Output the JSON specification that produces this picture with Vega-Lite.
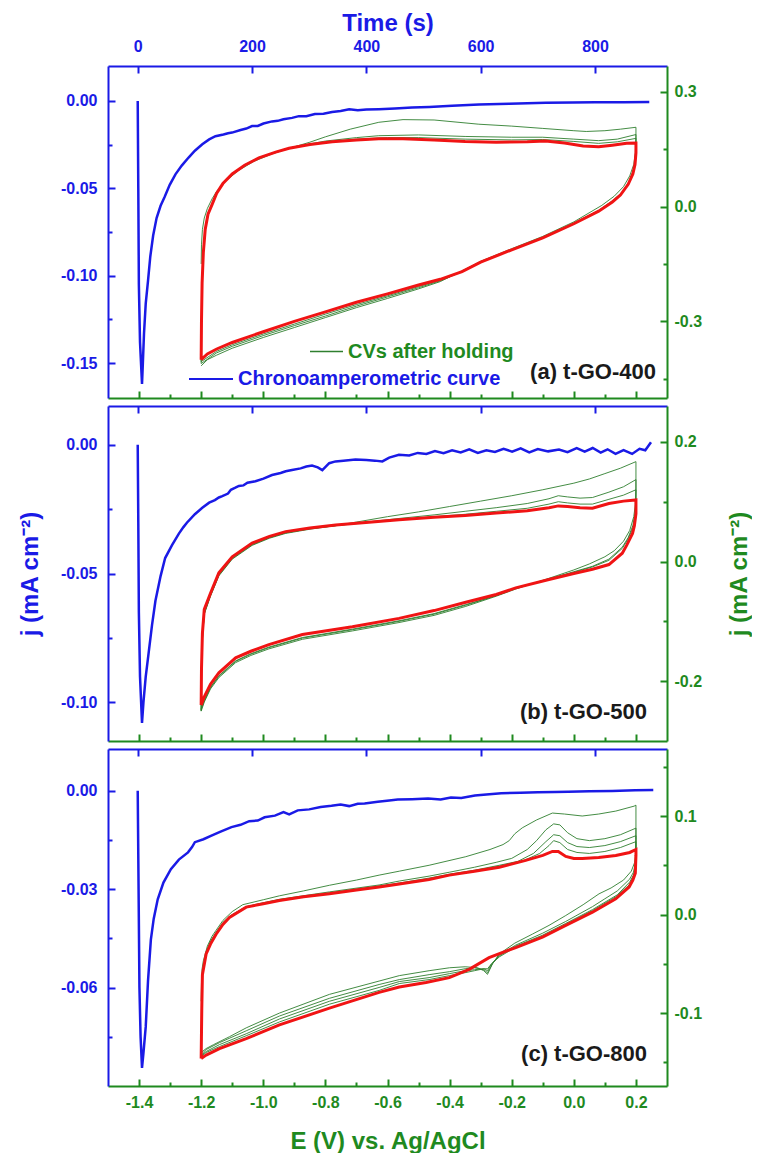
{
"$schema": "https://vega.github.io/schema/vega-lite/v6.json",
"padding": {"left": 18, "top": 11, "right": 0, "bottom": 0},
"config": {
 "view": {"stroke": null},
 "axis": {"grid": false, "domainWidth": 2, "tickWidth": 2, "labelFont": "Liberation Sans", "labelFontWeight": "bold", "labelFontSize": 16, "titleFont": "Liberation Sans", "titleFontWeight": "bold", "titleFontSize": 24, "labelFlush": false, "labelOverlap": false},
 "legend": {"labelLimit": 500, "padding": 0, "labelFont": "Liberation Sans", "labelFontWeight": "bold", "labelFontSize": 20, "symbolType": "stroke", "labelOffset": 4}
},
"datasets": {
"caA": [{"t":0,"j":0},{"t":1,"j":-0.05},{"t":2,"j":-0.105},{"t":4,"j":-0.138},{"t":7.5,"j":-0.162},{"t":9,"j":-0.15},{"t":11,"j":-0.133},{"t":14,"j":-0.116},{"t":18,"j":-0.103},{"t":22,"j":-0.089},{"t":27,"j":-0.077},{"t":33,"j":-0.067},{"t":40,"j":-0.06},{"t":47,"j":-0.055},{"t":56,"j":-0.048},{"t":66,"j":-0.042},{"t":77,"j":-0.037},{"t":89,"j":-0.0324},{"t":100,"j":-0.0285},{"t":113,"j":-0.0248},{"t":125,"j":-0.022},{"t":136,"j":-0.0202},{"t":150,"j":-0.0192},{"t":158,"j":-0.0185},{"t":165,"j":-0.0181},{"t":180,"j":-0.0166},{"t":190,"j":-0.0158},{"t":200,"j":-0.0144},{"t":210,"j":-0.0143},{"t":220,"j":-0.0129},{"t":235,"j":-0.0117},{"t":245,"j":-0.0114},{"t":255,"j":-0.0105},{"t":270,"j":-0.0097},{"t":282,"j":-0.0087},{"t":295,"j":-0.0087},{"t":310,"j":-0.0075},{"t":325,"j":-0.0073},{"t":340,"j":-0.0063},{"t":355,"j":-0.0057},{"t":370,"j":-0.0048},{"t":385,"j":-0.0053},{"t":400,"j":-0.0049},{"t":422,"j":-0.0047},{"t":450,"j":-0.0043},{"t":480,"j":-0.0037},{"t":510,"j":-0.0034},{"t":550,"j":-0.0028},{"t":597,"j":-0.002},{"t":650,"j":-0.0016},{"t":714,"j":-0.0011},{"t":760,"j":-0.0009},{"t":800,"j":-0.0008},{"t":850,"j":-0.0007},{"t":895,"j":-0.0006}],
"caB": [{"t":0,"j":0},{"t":1,"j":-0.03},{"t":2,"j":-0.065},{"t":4,"j":-0.09},{"t":7.5,"j":-0.108},{"t":10,"j":-0.1},{"t":14,"j":-0.09},{"t":19,"j":-0.081},{"t":25,"j":-0.07},{"t":31,"j":-0.0606},{"t":40,"j":-0.051},{"t":48,"j":-0.044},{"t":60,"j":-0.039},{"t":72,"j":-0.0345},{"t":80,"j":-0.032},{"t":86,"j":-0.0303},{"t":100,"j":-0.027},{"t":113,"j":-0.0245},{"t":125,"j":-0.0225},{"t":135,"j":-0.0215},{"t":142,"j":-0.0205},{"t":148,"j":-0.02},{"t":158,"j":-0.019},{"t":163,"j":-0.0175},{"t":170,"j":-0.0168},{"t":177,"j":-0.016},{"t":185,"j":-0.0158},{"t":192,"j":-0.0148},{"t":206,"j":-0.0142},{"t":220,"j":-0.0132},{"t":235,"j":-0.0118},{"t":250,"j":-0.011},{"t":259,"j":-0.0103},{"t":270,"j":-0.0098},{"t":285,"j":-0.0092},{"t":295,"j":-0.0085},{"t":305,"j":-0.0081},{"t":315,"j":-0.0088},{"t":323,"j":-0.0099},{"t":335,"j":-0.0072},{"t":346,"j":-0.0065},{"t":360,"j":-0.0062},{"t":381,"j":-0.0058},{"t":400,"j":-0.006},{"t":415,"j":-0.0062},{"t":428,"j":-0.0065},{"t":440,"j":-0.005},{"t":457,"j":-0.0039},{"t":475,"j":-0.0042},{"t":490,"j":-0.0032},{"t":505,"j":-0.0036},{"t":520,"j":-0.0025},{"t":535,"j":-0.0033},{"t":550,"j":-0.0022},{"t":565,"j":-0.003},{"t":580,"j":-0.0018},{"t":595,"j":-0.0032},{"t":610,"j":-0.0022},{"t":625,"j":-0.0028},{"t":640,"j":-0.0016},{"t":655,"j":-0.0027},{"t":670,"j":-0.0014},{"t":685,"j":-0.003},{"t":700,"j":-0.0017},{"t":718,"j":-0.0026},{"t":737,"j":-0.0019},{"t":752,"j":-0.0029},{"t":768,"j":-0.0013},{"t":782,"j":-0.0027},{"t":796,"j":-0.0013},{"t":810,"j":-0.0031},{"t":822,"j":-0.0018},{"t":836,"j":-0.0036},{"t":850,"j":-0.0021},{"t":865,"j":-0.0036},{"t":878,"j":-0.0016},{"t":888,"j":-0.0022},{"t":898,"j":0.0009}],
"caC": [{"t":0,"j":0},{"t":1.5,"j":-0.03},{"t":3,"j":-0.06},{"t":5,"j":-0.075},{"t":7.5,"j":-0.0845},{"t":10,"j":-0.08},{"t":14,"j":-0.072},{"t":18,"j":-0.058},{"t":23,"j":-0.0454},{"t":28,"j":-0.039},{"t":35,"j":-0.0331},{"t":45,"j":-0.028},{"t":58,"j":-0.0239},{"t":72,"j":-0.021},{"t":88,"j":-0.0188},{"t":95,"j":-0.0172},{"t":100,"j":-0.0157},{"t":115,"j":-0.0148},{"t":129,"j":-0.0137},{"t":145,"j":-0.0125},{"t":164,"j":-0.0111},{"t":180,"j":-0.0104},{"t":195,"j":-0.0093},{"t":210,"j":-0.0091},{"t":222,"j":-0.0081},{"t":240,"j":-0.0076},{"t":255,"j":-0.0065},{"t":265,"j":-0.0072},{"t":280,"j":-0.006},{"t":300,"j":-0.0057},{"t":320,"j":-0.005},{"t":339,"j":-0.0046},{"t":355,"j":-0.0042},{"t":370,"j":-0.0047},{"t":385,"j":-0.004},{"t":397,"j":-0.0039},{"t":420,"j":-0.0034},{"t":440,"j":-0.003},{"t":455,"j":-0.0027},{"t":480,"j":-0.0026},{"t":508,"j":-0.0024},{"t":530,"j":-0.0027},{"t":548,"j":-0.0021},{"t":566,"j":-0.0022},{"t":590,"j":-0.0015},{"t":610,"j":-0.0012},{"t":636,"j":-0.0008},{"t":670,"j":-0.0006},{"t":700,"j":-0.0005},{"t":730,"j":-0.0004},{"t":753,"j":-0.0003},{"t":790,"j":-0.0002},{"t":830,"j":-0.0001},{"t":870,"j":0.0001},{"t":902,"j":0.0002}],
"cvA": [
{"c":1,"E":-1.2,"j":-0.15},{"c":1,"E":-1.199,"j":-0.1},{"c":1,"E":-1.196,"j":-0.06},{"c":1,"E":-1.19,"j":-0.03},{"c":1,"E":-1.18,"j":-0.005},{"c":1,"E":-1.165,"j":0.02},{"c":1,"E":-1.15,"j":0.04},{"c":1,"E":-1.12,"j":0.067},{"c":1,"E":-1.08,"j":0.094},{"c":1,"E":-1.03,"j":0.118},{"c":1,"E":-0.97,"j":0.138},{"c":1,"E":-0.9,"j":0.156},{"c":1,"E":-0.85,"j":0.168},{"c":1,"E":-0.8,"j":0.182},{"c":1,"E":-0.72,"j":0.202},{"c":1,"E":-0.628,"j":0.22},{"c":1,"E":-0.55,"j":0.227},{"c":1,"E":-0.45,"j":0.226},{"c":1,"E":-0.306,"j":0.215},{"c":1,"E":-0.2,"j":0.21},{"c":1,"E":-0.1,"j":0.204},{"c":1,"E":0.0,"j":0.198},{"c":1,"E":0.04,"j":0.196},{"c":1,"E":0.1,"j":0.198},{"c":1,"E":0.15,"j":0.202},{"c":1,"E":0.2,"j":0.207},
{"c":1,"E":0.2,"j":0.175},{"c":1,"E":0.198,"j":0.14},{"c":1,"E":0.193,"j":0.11},{"c":1,"E":0.18,"j":0.08},{"c":1,"E":0.16,"j":0.052},{"c":1,"E":0.13,"j":0.027},{"c":1,"E":0.09,"j":0.003},{"c":1,"E":0.0,"j":-0.04},{"c":1,"E":-0.1,"j":-0.078},{"c":1,"E":-0.2,"j":-0.11},{"c":1,"E":-0.3,"j":-0.143},{"c":1,"E":-0.36,"j":-0.168},{"c":1,"E":-0.43,"j":-0.196},{"c":1,"E":-0.5,"j":-0.215},{"c":1,"E":-0.6,"j":-0.24},{"c":1,"E":-0.7,"j":-0.264},{"c":1,"E":-0.8,"j":-0.29},{"c":1,"E":-0.9,"j":-0.316},{"c":1,"E":-1.0,"j":-0.342},{"c":1,"E":-1.1,"j":-0.37},{"c":1,"E":-1.15,"j":-0.388},{"c":1,"E":-1.18,"j":-0.4},{"c":1,"E":-1.2,"j":-0.416},
{"c":2,"E":-1.2,"j":-0.41},{"c":2,"E":-1.199,"j":-0.3},{"c":2,"E":-1.197,"j":-0.2},{"c":2,"E":-1.193,"j":-0.12},{"c":2,"E":-1.187,"j":-0.06},{"c":2,"E":-1.178,"j":-0.02},{"c":2,"E":-1.165,"j":0.006},{"c":2,"E":-1.15,"j":0.036},{"c":2,"E":-1.13,"j":0.061},{"c":2,"E":-1.1,"j":0.086},{"c":2,"E":-1.06,"j":0.109},{"c":2,"E":-1.014,"j":0.128},{"c":2,"E":-0.96,"j":0.143},{"c":2,"E":-0.9,"j":0.156},{"c":2,"E":-0.8,"j":0.171},{"c":2,"E":-0.7,"j":0.18},{"c":2,"E":-0.628,"j":0.185},{"c":2,"E":-0.5,"j":0.187},{"c":2,"E":-0.35,"j":0.183},{"c":2,"E":-0.2,"j":0.181},{"c":2,"E":-0.1,"j":0.181},{"c":2,"E":0.0,"j":0.176},{"c":2,"E":0.08,"j":0.172},{"c":2,"E":0.14,"j":0.176},{"c":2,"E":0.2,"j":0.188},
{"c":2,"E":0.2,"j":0.16},{"c":2,"E":0.198,"j":0.125},{"c":2,"E":0.192,"j":0.095},{"c":2,"E":0.178,"j":0.065},{"c":2,"E":0.155,"j":0.037},{"c":2,"E":0.124,"j":0.015},{"c":2,"E":0.08,"j":-0.01},{"c":2,"E":0.0,"j":-0.043},{"c":2,"E":-0.1,"j":-0.08},{"c":2,"E":-0.2,"j":-0.112},{"c":2,"E":-0.3,"j":-0.144},{"c":2,"E":-0.36,"j":-0.17},{"c":2,"E":-0.43,"j":-0.194},{"c":2,"E":-0.5,"j":-0.212},{"c":2,"E":-0.6,"j":-0.236},{"c":2,"E":-0.7,"j":-0.26},{"c":2,"E":-0.8,"j":-0.286},{"c":2,"E":-0.9,"j":-0.311},{"c":2,"E":-1.0,"j":-0.337},{"c":2,"E":-1.1,"j":-0.365},{"c":2,"E":-1.15,"j":-0.382},{"c":2,"E":-1.2,"j":-0.41},
{"c":3,"E":-1.2,"j":-0.405},{"c":3,"E":-1.199,"j":-0.3},{"c":3,"E":-1.197,"j":-0.2},{"c":3,"E":-1.193,"j":-0.12},{"c":3,"E":-1.187,"j":-0.06},{"c":3,"E":-1.178,"j":-0.02},{"c":3,"E":-1.165,"j":0.005},{"c":3,"E":-1.15,"j":0.035},{"c":3,"E":-1.13,"j":0.06},{"c":3,"E":-1.1,"j":0.085},{"c":3,"E":-1.06,"j":0.108},{"c":3,"E":-1.014,"j":0.127},{"c":3,"E":-0.96,"j":0.142},{"c":3,"E":-0.9,"j":0.155},{"c":3,"E":-0.8,"j":0.168},{"c":3,"E":-0.7,"j":0.176},{"c":3,"E":-0.6,"j":0.18},{"c":3,"E":-0.5,"j":0.18},{"c":3,"E":-0.35,"j":0.176},{"c":3,"E":-0.2,"j":0.174},{"c":3,"E":-0.1,"j":0.175},{"c":3,"E":0.0,"j":0.17},{"c":3,"E":0.08,"j":0.165},{"c":3,"E":0.14,"j":0.169},{"c":3,"E":0.2,"j":0.178},
{"c":3,"E":0.2,"j":0.15},{"c":3,"E":0.197,"j":0.115},{"c":3,"E":0.19,"j":0.088},{"c":3,"E":0.176,"j":0.06},{"c":3,"E":0.152,"j":0.032},{"c":3,"E":0.124,"j":0.013},{"c":3,"E":0.08,"j":-0.011},{"c":3,"E":0.0,"j":-0.044},{"c":3,"E":-0.1,"j":-0.081},{"c":3,"E":-0.2,"j":-0.113},{"c":3,"E":-0.3,"j":-0.145},{"c":3,"E":-0.36,"j":-0.17},{"c":3,"E":-0.43,"j":-0.192},{"c":3,"E":-0.5,"j":-0.209},{"c":3,"E":-0.6,"j":-0.233},{"c":3,"E":-0.7,"j":-0.256},{"c":3,"E":-0.8,"j":-0.281},{"c":3,"E":-0.9,"j":-0.307},{"c":3,"E":-1.0,"j":-0.333},{"c":3,"E":-1.1,"j":-0.361},{"c":3,"E":-1.15,"j":-0.378},{"c":3,"E":-1.2,"j":-0.405},
{"c":0,"E":-1.2,"j":-0.4},{"c":0,"E":-1.199,"j":-0.3},{"c":0,"E":-1.197,"j":-0.2},{"c":0,"E":-1.193,"j":-0.12},{"c":0,"E":-1.187,"j":-0.06},{"c":0,"E":-1.178,"j":-0.02},{"c":0,"E":-1.165,"j":0.005},{"c":0,"E":-1.15,"j":0.035},{"c":0,"E":-1.13,"j":0.06},{"c":0,"E":-1.1,"j":0.085},{"c":0,"E":-1.06,"j":0.108},{"c":0,"E":-1.014,"j":0.127},{"c":0,"E":-0.96,"j":0.142},{"c":0,"E":-0.917,"j":0.152},{"c":0,"E":-0.85,"j":0.162},{"c":0,"E":-0.778,"j":0.169},{"c":0,"E":-0.7,"j":0.174},{"c":0,"E":-0.628,"j":0.177},{"c":0,"E":-0.55,"j":0.177},{"c":0,"E":-0.45,"j":0.174},{"c":0,"E":-0.35,"j":0.17},{"c":0,"E":-0.25,"j":0.168},{"c":0,"E":-0.15,"j":0.169},{"c":0,"E":-0.091,"j":0.171},{"c":0,"E":-0.03,"j":0.166},{"c":0,"E":0.03,"j":0.158},{"c":0,"E":0.08,"j":0.156},{"c":0,"E":0.124,"j":0.16},{"c":0,"E":0.17,"j":0.165},{"c":0,"E":0.2,"j":0.166},
{"c":0,"E":0.2,"j":0.14},{"c":0,"E":0.197,"j":0.11},{"c":0,"E":0.19,"j":0.085},{"c":0,"E":0.175,"j":0.058},{"c":0,"E":0.15,"j":0.03},{"c":0,"E":0.124,"j":0.012},{"c":0,"E":0.08,"j":-0.012},{"c":0,"E":0.0,"j":-0.045},{"c":0,"E":-0.1,"j":-0.082},{"c":0,"E":-0.2,"j":-0.113},{"c":0,"E":-0.3,"j":-0.145},{"c":0,"E":-0.36,"j":-0.17},{"c":0,"E":-0.43,"j":-0.19},{"c":0,"E":-0.5,"j":-0.205},{"c":0,"E":-0.6,"j":-0.228},{"c":0,"E":-0.7,"j":-0.25},{"c":0,"E":-0.8,"j":-0.275},{"c":0,"E":-0.9,"j":-0.3},{"c":0,"E":-1.0,"j":-0.327},{"c":0,"E":-1.1,"j":-0.355},{"c":0,"E":-1.15,"j":-0.372},{"c":0,"E":-1.18,"j":-0.385},{"c":0,"E":-1.2,"j":-0.4}
],
"cvB": [
{"c":1,"E":-1.2,"j":-0.25},{"c":1,"E":-1.199,"j":-0.19},{"c":1,"E":-1.196,"j":-0.13},{"c":1,"E":-1.19,"j":-0.088},{"c":1,"E":-1.17,"j":-0.058},{"c":1,"E":-1.143,"j":-0.024},{"c":1,"E":-1.1,"j":0.004},{"c":1,"E":-1.036,"j":0.027},{"c":1,"E":-0.98,"j":0.039},{"c":1,"E":-0.928,"j":0.047},{"c":1,"E":-0.85,"j":0.054},{"c":1,"E":-0.767,"j":0.06},{"c":1,"E":-0.7,"j":0.066},{"c":1,"E":-0.6,"j":0.075},{"c":1,"E":-0.5,"j":0.083},{"c":1,"E":-0.4,"j":0.092},{"c":1,"E":-0.3,"j":0.101},{"c":1,"E":-0.2,"j":0.11},{"c":1,"E":-0.1,"j":0.12},{"c":1,"E":0.0,"j":0.131},{"c":1,"E":0.05,"j":0.138},{"c":1,"E":0.1,"j":0.147},{"c":1,"E":0.15,"j":0.156},{"c":1,"E":0.2,"j":0.167},
{"c":1,"E":0.2,"j":0.12},{"c":1,"E":0.198,"j":0.095},{"c":1,"E":0.193,"j":0.075},{"c":1,"E":0.18,"j":0.052},{"c":1,"E":0.16,"j":0.034},{"c":1,"E":0.13,"j":0.018},{"c":1,"E":0.1,"j":0.008},{"c":1,"E":0.05,"j":-0.004},{"c":1,"E":0.0,"j":-0.014},{"c":1,"E":-0.08,"j":-0.028},{"c":1,"E":-0.187,"j":-0.046},{"c":1,"E":-0.25,"j":-0.058},{"c":1,"E":-0.348,"j":-0.075},{"c":1,"E":-0.45,"j":-0.09},{"c":1,"E":-0.563,"j":-0.102},{"c":1,"E":-0.713,"j":-0.116},{"c":1,"E":-0.874,"j":-0.13},{"c":1,"E":-0.982,"j":-0.146},{"c":1,"E":-1.04,"j":-0.157},{"c":1,"E":-1.089,"j":-0.169},{"c":1,"E":-1.143,"j":-0.194},{"c":1,"E":-1.17,"j":-0.213},{"c":1,"E":-1.19,"j":-0.235},{"c":1,"E":-1.2,"j":-0.25},
{"c":2,"E":-1.2,"j":-0.25},{"c":2,"E":-1.199,"j":-0.19},{"c":2,"E":-1.196,"j":-0.13},{"c":2,"E":-1.19,"j":-0.087},{"c":2,"E":-1.17,"j":-0.057},{"c":2,"E":-1.143,"j":-0.023},{"c":2,"E":-1.1,"j":0.005},{"c":2,"E":-1.036,"j":0.028},{"c":2,"E":-0.98,"j":0.04},{"c":2,"E":-0.928,"j":0.048},{"c":2,"E":-0.85,"j":0.055},{"c":2,"E":-0.767,"j":0.06},{"c":2,"E":-0.65,"j":0.067},{"c":2,"E":-0.563,"j":0.072},{"c":2,"E":-0.45,"j":0.078},{"c":2,"E":-0.35,"j":0.084},{"c":2,"E":-0.25,"j":0.09},{"c":2,"E":-0.15,"j":0.097},{"c":2,"E":-0.08,"j":0.105},{"c":2,"E":-0.05,"j":0.11},{"c":2,"E":-0.02,"j":0.108},{"c":2,"E":0.02,"j":0.106},{"c":2,"E":0.06,"j":0.107},{"c":2,"E":0.113,"j":0.116},{"c":2,"E":0.16,"j":0.125},{"c":2,"E":0.2,"j":0.137},
{"c":2,"E":0.2,"j":0.1},{"c":2,"E":0.197,"j":0.08},{"c":2,"E":0.19,"j":0.06},{"c":2,"E":0.175,"j":0.04},{"c":2,"E":0.156,"j":0.024},{"c":2,"E":0.113,"j":0.004},{"c":2,"E":0.06,"j":-0.008},{"c":2,"E":0.0,"j":-0.017},{"c":2,"E":-0.08,"j":-0.029},{"c":2,"E":-0.187,"j":-0.045},{"c":2,"E":-0.25,"j":-0.057},{"c":2,"E":-0.348,"j":-0.073},{"c":2,"E":-0.45,"j":-0.088},{"c":2,"E":-0.563,"j":-0.1},{"c":2,"E":-0.713,"j":-0.114},{"c":2,"E":-0.874,"j":-0.128},{"c":2,"E":-0.982,"j":-0.144},{"c":2,"E":-1.04,"j":-0.155},{"c":2,"E":-1.089,"j":-0.167},{"c":2,"E":-1.143,"j":-0.192},{"c":2,"E":-1.17,"j":-0.211},{"c":2,"E":-1.19,"j":-0.233},{"c":2,"E":-1.2,"j":-0.248},
{"c":3,"E":-1.2,"j":-0.248},{"c":3,"E":-1.199,"j":-0.188},{"c":3,"E":-1.196,"j":-0.128},{"c":3,"E":-1.19,"j":-0.086},{"c":3,"E":-1.17,"j":-0.056},{"c":3,"E":-1.143,"j":-0.022},{"c":3,"E":-1.1,"j":0.006},{"c":3,"E":-1.036,"j":0.029},{"c":3,"E":-0.98,"j":0.04},{"c":3,"E":-0.928,"j":0.048},{"c":3,"E":-0.85,"j":0.055},{"c":3,"E":-0.767,"j":0.06},{"c":3,"E":-0.65,"j":0.066},{"c":3,"E":-0.563,"j":0.07},{"c":3,"E":-0.45,"j":0.075},{"c":3,"E":-0.35,"j":0.079},{"c":3,"E":-0.25,"j":0.084},{"c":3,"E":-0.15,"j":0.089},{"c":3,"E":-0.08,"j":0.096},{"c":3,"E":-0.05,"j":0.1},{"c":3,"E":-0.02,"j":0.098},{"c":3,"E":0.02,"j":0.096},{"c":3,"E":0.06,"j":0.096},{"c":3,"E":0.113,"j":0.104},{"c":3,"E":0.16,"j":0.111},{"c":3,"E":0.2,"j":0.12},
{"c":3,"E":0.2,"j":0.095},{"c":3,"E":0.197,"j":0.075},{"c":3,"E":0.19,"j":0.056},{"c":3,"E":0.173,"j":0.036},{"c":3,"E":0.156,"j":0.022},{"c":3,"E":0.113,"j":0.002},{"c":3,"E":0.06,"j":-0.009},{"c":3,"E":0.0,"j":-0.018},{"c":3,"E":-0.08,"j":-0.029},{"c":3,"E":-0.187,"j":-0.045},{"c":3,"E":-0.25,"j":-0.057},{"c":3,"E":-0.348,"j":-0.072},{"c":3,"E":-0.45,"j":-0.087},{"c":3,"E":-0.563,"j":-0.099},{"c":3,"E":-0.713,"j":-0.113},{"c":3,"E":-0.874,"j":-0.127},{"c":3,"E":-0.982,"j":-0.143},{"c":3,"E":-1.04,"j":-0.154},{"c":3,"E":-1.089,"j":-0.166},{"c":3,"E":-1.143,"j":-0.191},{"c":3,"E":-1.17,"j":-0.21},{"c":3,"E":-1.19,"j":-0.232},{"c":3,"E":-1.2,"j":-0.246},
{"c":0,"E":-1.2,"j":-0.24},{"c":0,"E":-1.199,"j":-0.18},{"c":0,"E":-1.196,"j":-0.12},{"c":0,"E":-1.19,"j":-0.08},{"c":0,"E":-1.17,"j":-0.053},{"c":0,"E":-1.143,"j":-0.019},{"c":0,"E":-1.1,"j":0.008},{"c":0,"E":-1.036,"j":0.031},{"c":0,"E":-0.98,"j":0.042},{"c":0,"E":-0.928,"j":0.05},{"c":0,"E":-0.85,"j":0.056},{"c":0,"E":-0.767,"j":0.061},{"c":0,"E":-0.65,"j":0.066},{"c":0,"E":-0.563,"j":0.07},{"c":0,"E":-0.45,"j":0.074},{"c":0,"E":-0.35,"j":0.077},{"c":0,"E":-0.25,"j":0.081},{"c":0,"E":-0.15,"j":0.085},{"c":0,"E":-0.08,"j":0.09},{"c":0,"E":-0.05,"j":0.093},{"c":0,"E":-0.02,"j":0.092},{"c":0,"E":0.02,"j":0.09},{"c":0,"E":0.06,"j":0.089},{"c":0,"E":0.113,"j":0.097},{"c":0,"E":0.16,"j":0.101},{"c":0,"E":0.2,"j":0.103},
{"c":0,"E":0.2,"j":0.08},{"c":0,"E":0.195,"j":0.06},{"c":0,"E":0.189,"j":0.047},{"c":0,"E":0.17,"j":0.027},{"c":0,"E":0.156,"j":0.014},{"c":0,"E":0.113,"j":-0.005},{"c":0,"E":0.06,"j":-0.013},{"c":0,"E":0.0,"j":-0.02},{"c":0,"E":-0.08,"j":-0.03},{"c":0,"E":-0.187,"j":-0.044},{"c":0,"E":-0.25,"j":-0.055},{"c":0,"E":-0.348,"j":-0.068},{"c":0,"E":-0.45,"j":-0.082},{"c":0,"E":-0.563,"j":-0.095},{"c":0,"E":-0.713,"j":-0.109},{"c":0,"E":-0.874,"j":-0.122},{"c":0,"E":-0.982,"j":-0.139},{"c":0,"E":-1.04,"j":-0.15},{"c":0,"E":-1.089,"j":-0.161},{"c":0,"E":-1.143,"j":-0.186},{"c":0,"E":-1.17,"j":-0.205},{"c":0,"E":-1.19,"j":-0.226},{"c":0,"E":-1.2,"j":-0.24}
],
"cvC": [
{"c":1,"E":-1.2,"j":-0.088},{"c":1,"E":-1.199,"j":-0.07},{"c":1,"E":-1.197,"j":-0.055},{"c":1,"E":-1.193,"j":-0.047},{"c":1,"E":-1.18,"j":-0.032},{"c":1,"E":-1.165,"j":-0.022},{"c":1,"E":-1.152,"j":-0.016},{"c":1,"E":-1.13,"j":-0.006},{"c":1,"E":-1.1,"j":0.003},{"c":1,"E":-1.066,"j":0.01},{"c":1,"E":-1.0,"j":0.015},{"c":1,"E":-0.948,"j":0.019},{"c":1,"E":-0.87,"j":0.024},{"c":1,"E":-0.787,"j":0.0297},{"c":1,"E":-0.7,"j":0.035},{"c":1,"E":-0.627,"j":0.04},{"c":1,"E":-0.562,"j":0.044},{"c":1,"E":-0.466,"j":0.05},{"c":1,"E":-0.348,"j":0.0587},{"c":1,"E":-0.27,"j":0.066},{"c":1,"E":-0.228,"j":0.071},{"c":1,"E":-0.208,"j":0.075},{"c":1,"E":-0.19,"j":0.082},{"c":1,"E":-0.166,"j":0.088},{"c":1,"E":-0.12,"j":0.096},{"c":1,"E":-0.069,"j":0.103},{"c":1,"E":-0.03,"j":0.102},{"c":1,"E":0.027,"j":0.1},{"c":1,"E":0.08,"j":0.102},{"c":1,"E":0.135,"j":0.105},{"c":1,"E":0.194,"j":0.11},{"c":1,"E":0.2,"j":0.111},
{"c":1,"E":0.2,"j":0.076},{"c":1,"E":0.199,"j":0.062},{"c":1,"E":0.196,"j":0.053},{"c":1,"E":0.185,"j":0.044},{"c":1,"E":0.16,"j":0.035},{"c":1,"E":0.12,"j":0.027},{"c":1,"E":0.081,"j":0.021},{"c":1,"E":0.03,"j":0.01},{"c":1,"E":-0.026,"j":-0.001},{"c":1,"E":-0.08,"j":-0.011},{"c":1,"E":-0.133,"j":-0.0198},{"c":1,"E":-0.19,"j":-0.029},{"c":1,"E":-0.24,"j":-0.04},{"c":1,"E":-0.262,"j":-0.05},{"c":1,"E":-0.278,"j":-0.0607},{"c":1,"E":-0.29,"j":-0.057},{"c":1,"E":-0.31,"j":-0.054},{"c":1,"E":-0.35,"j":-0.053},{"c":1,"E":-0.4,"j":-0.054},{"c":1,"E":-0.466,"j":-0.057},{"c":1,"E":-0.562,"j":-0.062},{"c":1,"E":-0.627,"j":-0.0675},{"c":1,"E":-0.787,"j":-0.081},{"c":1,"E":-0.948,"j":-0.1},{"c":1,"E":-1.055,"j":-0.115},{"c":1,"E":-1.109,"j":-0.124},{"c":1,"E":-1.16,"j":-0.132},{"c":1,"E":-1.184,"j":-0.136},{"c":1,"E":-1.2,"j":-0.14},
{"c":2,"E":-1.2,"j":-0.14},{"c":2,"E":-1.199,"j":-0.11},{"c":2,"E":-1.197,"j":-0.08},{"c":2,"E":-1.195,"j":-0.058},{"c":2,"E":-1.184,"j":-0.038},{"c":2,"E":-1.17,"j":-0.027},{"c":2,"E":-1.152,"j":-0.018},{"c":2,"E":-1.13,"j":-0.008},{"c":2,"E":-1.1,"j":0.0},{"c":2,"E":-1.055,"j":0.008},{"c":2,"E":-1.0,"j":0.012},{"c":2,"E":-0.948,"j":0.0155},{"c":2,"E":-0.787,"j":0.023},{"c":2,"E":-0.627,"j":0.03},{"c":2,"E":-0.562,"j":0.034},{"c":2,"E":-0.466,"j":0.039},{"c":2,"E":-0.4,"j":0.043},{"c":2,"E":-0.32,"j":0.048},{"c":2,"E":-0.25,"j":0.053},{"c":2,"E":-0.2,"j":0.057},{"c":2,"E":-0.15,"j":0.066},{"c":2,"E":-0.12,"j":0.075},{"c":2,"E":-0.09,"j":0.086},{"c":2,"E":-0.065,"j":0.092},{"c":2,"E":-0.045,"j":0.091},{"c":2,"E":-0.02,"j":0.083},{"c":2,"E":0.01,"j":0.077},{"c":2,"E":0.05,"j":0.075},{"c":2,"E":0.1,"j":0.077},{"c":2,"E":0.15,"j":0.081},{"c":2,"E":0.2,"j":0.0877},
{"c":2,"E":0.2,"j":0.068},{"c":2,"E":0.198,"j":0.052},{"c":2,"E":0.192,"j":0.043},{"c":2,"E":0.18,"j":0.036},{"c":2,"E":0.14,"j":0.024},{"c":2,"E":0.1,"j":0.016},{"c":2,"E":0.06,"j":0.008},{"c":2,"E":-0.026,"j":-0.007},{"c":2,"E":-0.101,"j":-0.019},{"c":2,"E":-0.187,"j":-0.031},{"c":2,"E":-0.24,"j":-0.041},{"c":2,"E":-0.262,"j":-0.05},{"c":2,"E":-0.278,"j":-0.059},{"c":2,"E":-0.29,"j":-0.056},{"c":2,"E":-0.32,"j":-0.054},{"c":2,"E":-0.35,"j":-0.055},{"c":2,"E":-0.401,"j":-0.058},{"c":2,"E":-0.466,"j":-0.061},{"c":2,"E":-0.562,"j":-0.066},{"c":2,"E":-0.627,"j":-0.071},{"c":2,"E":-0.787,"j":-0.085},{"c":2,"E":-0.948,"j":-0.103},{"c":2,"E":-1.055,"j":-0.118},{"c":2,"E":-1.141,"j":-0.13},{"c":2,"E":-1.184,"j":-0.137},{"c":2,"E":-1.2,"j":-0.142},
{"c":3,"E":-1.2,"j":-0.142},{"c":3,"E":-1.199,"j":-0.115},{"c":3,"E":-1.198,"j":-0.09},{"c":3,"E":-1.196,"j":-0.06},{"c":3,"E":-1.184,"j":-0.039},{"c":3,"E":-1.17,"j":-0.028},{"c":3,"E":-1.152,"j":-0.019},{"c":3,"E":-1.13,"j":-0.009},{"c":3,"E":-1.109,"j":-0.002},{"c":3,"E":-1.055,"j":0.008},{"c":3,"E":-1.0,"j":0.0115},{"c":3,"E":-0.948,"j":0.015},{"c":3,"E":-0.787,"j":0.022},{"c":3,"E":-0.627,"j":0.029},{"c":3,"E":-0.562,"j":0.032},{"c":3,"E":-0.466,"j":0.037},{"c":3,"E":-0.4,"j":0.041},{"c":3,"E":-0.32,"j":0.045},{"c":3,"E":-0.24,"j":0.05},{"c":3,"E":-0.18,"j":0.054},{"c":3,"E":-0.13,"j":0.062},{"c":3,"E":-0.09,"j":0.074},{"c":3,"E":-0.065,"j":0.081},{"c":3,"E":-0.045,"j":0.08},{"c":3,"E":-0.02,"j":0.073},{"c":3,"E":0.01,"j":0.069},{"c":3,"E":0.05,"j":0.068},{"c":3,"E":0.1,"j":0.07},{"c":3,"E":0.15,"j":0.074},{"c":3,"E":0.2,"j":0.08},
{"c":3,"E":0.2,"j":0.065},{"c":3,"E":0.198,"j":0.048},{"c":3,"E":0.192,"j":0.04},{"c":3,"E":0.18,"j":0.033},{"c":3,"E":0.14,"j":0.02},{"c":3,"E":0.06,"j":0.005},{"c":3,"E":-0.026,"j":-0.009},{"c":3,"E":-0.101,"j":-0.021},{"c":3,"E":-0.187,"j":-0.032},{"c":3,"E":-0.24,"j":-0.042},{"c":3,"E":-0.265,"j":-0.05},{"c":3,"E":-0.278,"j":-0.057},{"c":3,"E":-0.29,"j":-0.055},{"c":3,"E":-0.32,"j":-0.056},{"c":3,"E":-0.35,"j":-0.057},{"c":3,"E":-0.401,"j":-0.06},{"c":3,"E":-0.466,"j":-0.064},{"c":3,"E":-0.562,"j":-0.068},{"c":3,"E":-0.627,"j":-0.074},{"c":3,"E":-0.787,"j":-0.088},{"c":3,"E":-0.948,"j":-0.106},{"c":3,"E":-1.055,"j":-0.121},{"c":3,"E":-1.141,"j":-0.132},{"c":3,"E":-1.184,"j":-0.139},{"c":3,"E":-1.2,"j":-0.143},
{"c":4,"E":-1.2,"j":-0.143},{"c":4,"E":-1.199,"j":-0.117},{"c":4,"E":-1.198,"j":-0.092},{"c":4,"E":-1.196,"j":-0.061},{"c":4,"E":-1.184,"j":-0.04},{"c":4,"E":-1.17,"j":-0.029},{"c":4,"E":-1.152,"j":-0.0195},{"c":4,"E":-1.13,"j":-0.0095},{"c":4,"E":-1.109,"j":-0.0025},{"c":4,"E":-1.055,"j":0.0078},{"c":4,"E":-1.0,"j":0.0112},{"c":4,"E":-0.948,"j":0.0148},{"c":4,"E":-0.787,"j":0.0215},{"c":4,"E":-0.627,"j":0.0285},{"c":4,"E":-0.562,"j":0.0315},{"c":4,"E":-0.466,"j":0.036},{"c":4,"E":-0.4,"j":0.0405},{"c":4,"E":-0.32,"j":0.0445},{"c":4,"E":-0.24,"j":0.049},{"c":4,"E":-0.16,"j":0.055},{"c":4,"E":-0.11,"j":0.062},{"c":4,"E":-0.08,"j":0.07},{"c":4,"E":-0.065,"j":0.075},{"c":4,"E":-0.045,"j":0.073},{"c":4,"E":-0.02,"j":0.066},{"c":4,"E":0.01,"j":0.063},{"c":4,"E":0.05,"j":0.062},{"c":4,"E":0.1,"j":0.064},{"c":4,"E":0.15,"j":0.068},{"c":4,"E":0.2,"j":0.074},
{"c":4,"E":0.2,"j":0.063},{"c":4,"E":0.198,"j":0.045},{"c":4,"E":0.19,"j":0.037},{"c":4,"E":0.178,"j":0.03},{"c":4,"E":0.135,"j":0.018},{"c":4,"E":0.06,"j":0.004},{"c":4,"E":-0.026,"j":-0.01},{"c":4,"E":-0.101,"j":-0.022},{"c":4,"E":-0.187,"j":-0.033},{"c":4,"E":-0.24,"j":-0.043},{"c":4,"E":-0.265,"j":-0.05},{"c":4,"E":-0.278,"j":-0.055},{"c":4,"E":-0.29,"j":-0.055},{"c":4,"E":-0.32,"j":-0.057},{"c":4,"E":-0.35,"j":-0.059},{"c":4,"E":-0.401,"j":-0.062},{"c":4,"E":-0.466,"j":-0.066},{"c":4,"E":-0.562,"j":-0.07},{"c":4,"E":-0.627,"j":-0.077},{"c":4,"E":-0.787,"j":-0.091},{"c":4,"E":-0.948,"j":-0.109},{"c":4,"E":-1.055,"j":-0.123},{"c":4,"E":-1.141,"j":-0.134},{"c":4,"E":-1.184,"j":-0.14},{"c":4,"E":-1.2,"j":-0.144},
{"c":0,"E":-1.2,"j":-0.146},{"c":0,"E":-1.199,"j":-0.12},{"c":0,"E":-1.198,"j":-0.095},{"c":0,"E":-1.196,"j":-0.061},{"c":0,"E":-1.184,"j":-0.04},{"c":0,"E":-1.17,"j":-0.03},{"c":0,"E":-1.152,"j":-0.02},{"c":0,"E":-1.13,"j":-0.01},{"c":0,"E":-1.109,"j":-0.003},{"c":0,"E":-1.055,"j":0.0075},{"c":0,"E":-1.0,"j":0.011},{"c":0,"E":-0.948,"j":0.0143},{"c":0,"E":-0.87,"j":0.018},{"c":0,"E":-0.787,"j":0.021},{"c":0,"E":-0.7,"j":0.025},{"c":0,"E":-0.627,"j":0.028},{"c":0,"E":-0.562,"j":0.031},{"c":0,"E":-0.466,"j":0.0355},{"c":0,"E":-0.401,"j":0.04},{"c":0,"E":-0.32,"j":0.044},{"c":0,"E":-0.24,"j":0.048},{"c":0,"E":-0.155,"j":0.055},{"c":0,"E":-0.1,"j":0.06},{"c":0,"E":-0.069,"j":0.064},{"c":0,"E":-0.05,"j":0.064},{"c":0,"E":-0.026,"j":0.059},{"c":0,"E":0.0,"j":0.057},{"c":0,"E":0.027,"j":0.057},{"c":0,"E":0.08,"j":0.058},{"c":0,"E":0.135,"j":0.06},{"c":0,"E":0.18,"j":0.063},{"c":0,"E":0.2,"j":0.066},
{"c":0,"E":0.2,"j":0.06},{"c":0,"E":0.198,"j":0.042},{"c":0,"E":0.19,"j":0.035},{"c":0,"E":0.178,"j":0.028},{"c":0,"E":0.135,"j":0.016},{"c":0,"E":0.06,"j":0.0024},{"c":0,"E":-0.026,"j":-0.011},{"c":0,"E":-0.101,"j":-0.023},{"c":0,"E":-0.187,"j":-0.0335},{"c":0,"E":-0.273,"j":-0.0437},{"c":0,"E":-0.337,"j":-0.0556},{"c":0,"E":-0.401,"j":-0.064},{"c":0,"E":-0.476,"j":-0.069},{"c":0,"E":-0.562,"j":-0.0735},{"c":0,"E":-0.627,"j":-0.079},{"c":0,"E":-0.787,"j":-0.095},{"c":0,"E":-0.948,"j":-0.112},{"c":0,"E":-1.055,"j":-0.126},{"c":0,"E":-1.141,"j":-0.136},{"c":0,"E":-1.184,"j":-0.1426},{"c":0,"E":-1.2,"j":-0.146}
]
},
"bounds": "flush",
"spacing": 8,
"vconcat": [
{
 "width": 559, "height": 332,
 "title": {"text": "(a) t-GO-400", "orient": "bottom", "anchor": "end", "frame": "group", "offset": -20, "dx": -11, "baseline": "alphabetic", "font": "Liberation Sans", "fontSize": 22, "fontWeight": "bold", "color": "#1a1a1a"},
 "layer": [
  {
   "data": {"name": "caA"},
   "mark": {"type": "line", "strokeWidth": 2.5},
   "encoding": {
    "x": {"field": "t", "type": "quantitative", "scale": {"domain": [-52, 926], "nice": false, "zero": false},
      "axis": {"orient": "top", "values": [0,200,400,600,800], "format": "d", "title": "Time (s)", "titleColor": "#1a1ae6", "labelColor": "#1a1ae6", "domainColor": "#1a1ae6", "tickColor": "#1a1ae6", "tickSize": -7, "labelPadding": 19, "titlePadding": 3}},
    "y": {"field": "j", "type": "quantitative", "scale": {"domain": [-0.17, 0.02], "nice": false, "zero": false},
      "axis": {"orient": "left", "values": [-0.15,-0.125,-0.1,-0.075,-0.05,-0.025,0], "title": null,
        "labelExpr": "abs(datum.value*20-round(datum.value*20))<0.01 ? (datum.value<0 ? '-' : '') + format(abs(datum.value),'.2f') : ''",
        "tickSize": {"condition": {"test": "abs(datum.value*20-round(datum.value*20))<0.01", "value": -7}, "value": -4},
        "labelColor": "#1a1ae6", "domainColor": "#1a1ae6", "tickColor": "#1a1ae6", "labelPadding": 18}},
    "color": {"datum": "Chronoamperometric curve", "type": "nominal", "scale": {"range": ["#1a1ae6"]},
      "legend": {"orient": "none", "legendX": 80, "legendY": 290, "title": null, "symbolSize": 1936, "symbolStrokeWidth": 2, "labelColor": "#1a1ae6"}},
    "order": {"value": null}
   }
  },
  {
   "data": {"name": "cvA"},
   "encoding": {
    "x": {"field": "E", "type": "quantitative", "scale": {"domain": [-1.5, 0.3], "nice": false, "zero": false},
      "axis": {"orient": "bottom", "values": [-1.4,-1.3,-1.2,-1.1,-1.0,-0.9,-0.8,-0.7,-0.6,-0.5,-0.4,-0.3,-0.2,-0.1,0,0.1,0.2], "labels": false, "title": null,
        "tickSize": {"condition": {"test": "abs(datum.value*5-round(datum.value*5))<0.01", "value": -7}, "value": -4},
        "domainColor": "#1f8a1f", "tickColor": "#1f8a1f"}},
    "y": {"field": "j", "type": "quantitative", "scale": {"domain": [-0.5, 0.367], "nice": false, "zero": false},
      "axis": {"orient": "right", "values": [-0.45,-0.3,-0.15,0,0.15,0.3], "title": null,
        "labelExpr": "abs(datum.value/0.3-round(datum.value/0.3))<0.01 ? (datum.value<0 ? '-' : '') + format(abs(datum.value),'.1f') : ''",
        "tickSize": {"condition": {"test": "abs(datum.value/0.3-round(datum.value/0.3))<0.01", "value": -7}, "value": -4},
        "labelColor": "#1f8a1f", "domainColor": "#1f8a1f", "tickColor": "#1f8a1f", "labelPadding": 14}},
    "order": {"value": null}
   },
   "layer": [
    {"transform": [{"filter": "datum.c > 0"}], "mark": {"type": "line", "strokeWidth": 0.9},
     "encoding": {"detail": {"field": "c", "type": "nominal"},
       "stroke": {"datum": "CVs after holding", "type": "nominal", "scale": {"range": ["#2f7f2f"]},
         "legend": {"orient": "none", "legendX": 201, "legendY": 268, "title": null, "symbolSize": 1089, "symbolStrokeWidth": 1.5, "labelColor": "#1f8a1f"}}}},
    {"transform": [{"filter": "datum.c == 0"}], "mark": {"type": "line", "strokeWidth": 3, "color": "#f01414"}}
   ]
  }
 ],
 "resolve": {"scale": {"x": "independent", "y": "independent"}}
},
{
 "width": 559, "height": 335,
 "title": {"text": "(b) t-GO-500", "orient": "bottom", "anchor": "end", "frame": "group", "offset": -23, "dx": -20, "baseline": "alphabetic", "font": "Liberation Sans", "fontSize": 22, "fontWeight": "bold", "color": "#1a1a1a"},
 "layer": [
  {
   "data": {"name": "caB"},
   "mark": {"type": "line", "strokeWidth": 2.5, "color": "#1a1ae6"},
   "encoding": {
    "x": {"field": "t", "type": "quantitative", "scale": {"domain": [-52, 926], "nice": false, "zero": false},
      "axis": {"orient": "top", "values": [0,200,400,600,800], "labels": false, "title": null, "domainColor": "#1a1ae6", "tickColor": "#1a1ae6", "tickSize": -7}},
    "y": {"field": "j", "type": "quantitative", "scale": {"domain": [-0.115, 0.015], "nice": false, "zero": false},
      "axis": {"orient": "left", "values": [-0.1,-0.075,-0.05,-0.025,0], "title": "j (mA cm⁻²)", "titleColor": "#1a1ae6", "titleAngle": 270, "titlePadding": 18,
        "labelExpr": "abs(datum.value*20-round(datum.value*20))<0.01 ? (datum.value<0 ? '-' : '') + format(abs(datum.value),'.2f') : ''",
        "tickSize": {"condition": {"test": "abs(datum.value*20-round(datum.value*20))<0.01", "value": -7}, "value": -4},
        "labelColor": "#1a1ae6", "domainColor": "#1a1ae6", "tickColor": "#1a1ae6", "labelPadding": 18}},
    "order": {"value": null}
   }
  },
  {
   "data": {"name": "cvB"},
   "encoding": {
    "x": {"field": "E", "type": "quantitative", "scale": {"domain": [-1.5, 0.3], "nice": false, "zero": false},
      "axis": {"orient": "bottom", "values": [-1.4,-1.3,-1.2,-1.1,-1.0,-0.9,-0.8,-0.7,-0.6,-0.5,-0.4,-0.3,-0.2,-0.1,0,0.1,0.2], "labels": false, "title": null,
        "tickSize": {"condition": {"test": "abs(datum.value*5-round(datum.value*5))<0.01", "value": -7}, "value": -4},
        "domainColor": "#1f8a1f", "tickColor": "#1f8a1f"}},
    "y": {"field": "j", "type": "quantitative", "scale": {"domain": [-0.3, 0.26], "nice": false, "zero": false},
      "axis": {"orient": "right", "values": [-0.2,-0.1,0,0.1,0.2], "title": "j (mA cm⁻²)", "titleColor": "#1f8a1f", "titleAngle": 270, "titlePadding": 50,
        "labelExpr": "abs(datum.value*5-round(datum.value*5))<0.01 ? (datum.value<0 ? '-' : '') + format(abs(datum.value),'.1f') : ''",
        "tickSize": {"condition": {"test": "abs(datum.value*5-round(datum.value*5))<0.01", "value": -7}, "value": -4},
        "labelColor": "#1f8a1f", "domainColor": "#1f8a1f", "tickColor": "#1f8a1f", "labelPadding": 14}},
    "order": {"value": null}
   },
   "layer": [
    {"transform": [{"filter": "datum.c > 0"}], "mark": {"type": "line", "strokeWidth": 0.9, "color": "#2f7f2f"},
     "encoding": {"detail": {"field": "c", "type": "nominal"}}},
    {"transform": [{"filter": "datum.c == 0"}], "mark": {"type": "line", "strokeWidth": 3, "color": "#f01414"}}
   ]
  }
 ],
 "resolve": {"scale": {"x": "independent", "y": "independent"}}
},
{
 "width": 559, "height": 337,
 "title": {"text": "(c) t-GO-800", "orient": "bottom", "anchor": "end", "frame": "group", "offset": -92, "dx": -20, "baseline": "alphabetic", "font": "Liberation Sans", "fontSize": 22, "fontWeight": "bold", "color": "#1a1a1a"},
 "layer": [
  {
   "data": {"name": "caC"},
   "mark": {"type": "line", "strokeWidth": 2.5, "color": "#1a1ae6"},
   "encoding": {
    "x": {"field": "t", "type": "quantitative", "scale": {"domain": [-52, 926], "nice": false, "zero": false},
      "axis": {"orient": "top", "values": [0,200,400,600,800], "labels": false, "title": null, "domainColor": "#1a1ae6", "tickColor": "#1a1ae6", "tickSize": -7}},
    "y": {"field": "j", "type": "quantitative", "scale": {"domain": [-0.09, 0.0127], "nice": false, "zero": false},
      "axis": {"orient": "left", "values": [-0.075,-0.06,-0.045,-0.03,-0.015,0], "title": null,
        "labelExpr": "abs(datum.value/0.03-round(datum.value/0.03))<0.01 ? (datum.value<0 ? '-' : '') + format(abs(datum.value),'.2f') : ''",
        "tickSize": {"condition": {"test": "abs(datum.value/0.03-round(datum.value/0.03))<0.01", "value": -7}, "value": -4},
        "labelColor": "#1a1ae6", "domainColor": "#1a1ae6", "tickColor": "#1a1ae6", "labelPadding": 18}},
    "order": {"value": null}
   }
  },
  {
   "data": {"name": "cvC"},
   "encoding": {
    "x": {"field": "E", "type": "quantitative", "scale": {"domain": [-1.5, 0.3], "nice": false, "zero": false},
      "axis": {"orient": "bottom", "values": [-1.4,-1.3,-1.2,-1.1,-1.0,-0.9,-0.8,-0.7,-0.6,-0.5,-0.4,-0.3,-0.2,-0.1,0,0.1,0.2], "title": "E (V) vs. Ag/AgCl", "titleColor": "#1f8a1f", "titlePadding": 16,
        "labelExpr": "abs(datum.value*5-round(datum.value*5))<0.01 ? (datum.value<0 ? '-' : '') + format(abs(datum.value),'.1f') : ''",
        "tickSize": {"condition": {"test": "abs(datum.value*5-round(datum.value*5))<0.01", "value": -7}, "value": -4},
        "labelColor": "#1f8a1f", "domainColor": "#1f8a1f", "tickColor": "#1f8a1f", "labelPadding": 15}},
    "y": {"field": "j", "type": "quantitative", "scale": {"domain": [-0.174, 0.168], "nice": false, "zero": false},
      "axis": {"orient": "right", "values": [-0.15,-0.1,-0.05,0,0.05,0.1,0.15], "title": null,
        "labelExpr": "abs(datum.value*10-round(datum.value*10))<0.01 ? (datum.value<0 ? '-' : '') + format(abs(datum.value),'.1f') : ''",
        "tickSize": {"condition": {"test": "abs(datum.value*10-round(datum.value*10))<0.01", "value": -7}, "value": -4},
        "labelColor": "#1f8a1f", "domainColor": "#1f8a1f", "tickColor": "#1f8a1f", "labelPadding": 14}},
    "order": {"value": null}
   },
   "layer": [
    {"transform": [{"filter": "datum.c > 0"}], "mark": {"type": "line", "strokeWidth": 0.9, "color": "#2f7f2f"},
     "encoding": {"detail": {"field": "c", "type": "nominal"}}},
    {"transform": [{"filter": "datum.c == 0"}], "mark": {"type": "line", "strokeWidth": 3, "color": "#f01414"}}
   ]
  }
 ],
 "resolve": {"scale": {"x": "independent", "y": "independent"}}
}
]
}
